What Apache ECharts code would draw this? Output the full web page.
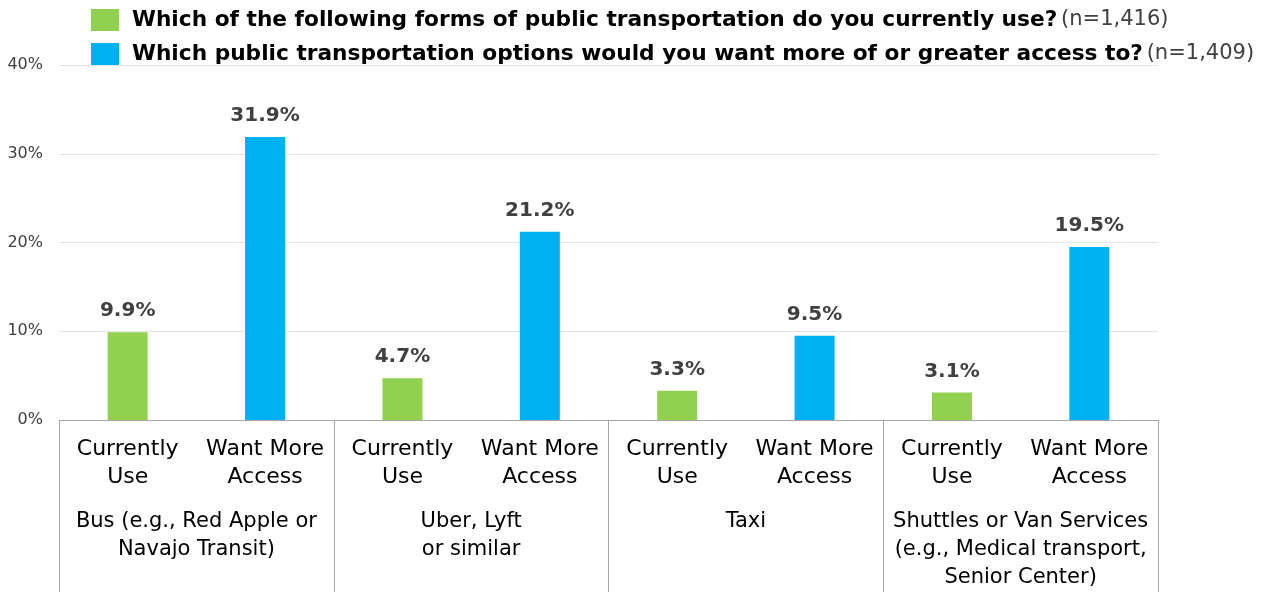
<!DOCTYPE html>
<html>
<head>
<meta charset="utf-8">
<script src="https://cdn.jsdelivr.net/npm/echarts@6/dist/echarts.min.js"></script>
<style>
  html, body { margin: 0; padding: 0; background: #ffffff; }
  #chart { width: 1266px; height: 592px; }
</style>
</head>
<body>
<div id="chart"></div>
<script>
// Transport modes (outer axis level)
const groups = [
  'Bus (e.g., Red Apple or\nNavajo Transit)',
  'Uber, Lyft\nor similar',
  'Taxi',
  'Shuttles or Van Services\n(e.g., Medical transport,\nSenior Center)'
];
// Answer type within each mode (inner axis level)
const answerTypes = ['Currently\nUse', 'Want More\nAccess'];

// Percent of respondents
const currentlyUse = [9.9, 4.7, 3.3, 3.1];
const wantMore = [31.9, 21.2, 9.5, 19.5];

// Legend questions and sample sizes
const seriesNames = [
  'Which of the following forms of public transportation do you currently use?',
  'Which public transportation options would you want more of or greater access to?'
];
const sampleSizes = ['(n=1,416)', '(n=1,409)'];

const yTicks = { min: 0, max: 40, interval: 10 };

// Interleave into one inner category per bar
const innerCats = [];
const greenData = [];
const blueData = [];
groups.forEach((g, i) => {
  innerCats.push(answerTypes[0], answerTypes[1]);
  greenData.push(currentlyUse[i], '-');
  blueData.push('-', wantMore[i]);
});

const FONT = 'DejaVu Sans';
const chart = echarts.init(document.getElementById('chart'), null, { renderer: 'canvas' });

const barLabel = {
  show: true,
  position: 'top',
  distance: 11,
  fontFamily: FONT,
  fontWeight: 'bold',
  fontSize: 20,
  color: '#404040',
  formatter: p => p.value.toFixed(1) + '%'
};

chart.setOption({
  animation: false,
  textStyle: { fontFamily: FONT },
  legend: {
    orient: 'vertical',
    left: 91,
    top: 9,
    padding: 0,
    itemWidth: 28,
    itemHeight: 22,
    itemGap: 12,
    icon: 'rect',
    data: seriesNames,
    formatter: name => '{q|' + name + '} {n|' + sampleSizes[seriesNames.indexOf(name)] + '}',
    textStyle: {
      padding: [0, 0, 0, 8],
      rich: {
        q: { fontFamily: FONT, fontWeight: 'bold', fontSize: 21.7, color: '#000000', lineHeight: 22 },
        n: { fontFamily: FONT, fontSize: 21, color: '#404040', lineHeight: 22 }
      }
    }
  },
  grid: { left: 59, right: 108, top: 65, bottom: 172, containLabel: false },
  xAxis: [
    {
      type: 'category',
      data: innerCats,
      position: 'bottom',
      axisLine: { show: true, lineStyle: { color: '#a6a6a6', width: 1 } },
      axisTick: { show: false },
      axisLabel: {
        interval: 0,
        margin: 15,
        fontFamily: FONT,
        fontSize: 22,
        lineHeight: 28,
        color: '#000000',
        align: 'center'
      }
    },
    {
      type: 'category',
      data: groups,
      position: 'bottom',
      axisLine: { show: false },
      axisTick: { show: true, interval: 0, length: 176, lineStyle: { color: '#a6a6a6', width: 1 } },
      axisLabel: {
        interval: 0,
        margin: 88,
        fontFamily: FONT,
        fontSize: 21,
        lineHeight: 28,
        color: '#000000',
        align: 'center'
      }
    }
  ],
  yAxis: {
    type: 'value',
    min: yTicks.min,
    max: yTicks.max,
    interval: yTicks.interval,
    axisLine: { show: false },
    axisTick: { show: false },
    splitLine: { lineStyle: { color: '#e3e3e3', width: 1 } },
    axisLabel: {
      margin: 16,
      fontFamily: FONT,
      fontSize: 16,
      color: '#404040',
      formatter: '{value}%'
    }
  },
  series: [
    {
      name: seriesNames[0],
      type: 'bar',
      stack: 'mode',
      xAxisIndex: 0,
      barWidth: 40,
      itemStyle: { color: '#92D050' },
      label: barLabel,
      data: greenData
    },
    {
      name: seriesNames[1],
      type: 'bar',
      stack: 'mode',
      xAxisIndex: 0,
      barWidth: 40,
      itemStyle: { color: '#00B0F0' },
      label: barLabel,
      data: blueData
    }
  ]
});
</script>
</body>
</html>
